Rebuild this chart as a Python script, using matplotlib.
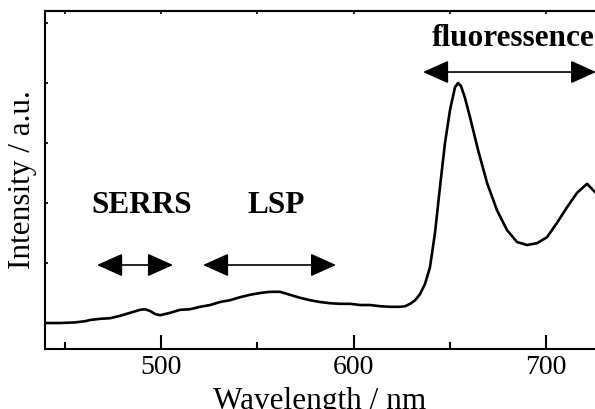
import matplotlib
matplotlib.use("Agg")
import matplotlib.pyplot as plt
from matplotlib.patches import FancyArrowPatch

plt.rcParams['font.family'] = ['Liberation Serif', 'DejaVu Serif']

# Spectrum
wavelength = [439.7, 447.5, 455.3, 460.5, 463.1, 468.3, 473.5, 478.7, 483.9, 489.1,
              491.7, 494.3, 496.9, 499.5, 504.7, 509.9, 515.1, 520.3, 525.5, 530.6,
              535.8, 541.0, 546.2, 551.4, 556.6, 561.8, 567.0, 572.2, 577.4, 582.6,
              587.8, 593.0, 598.2, 603.4, 608.6, 613.8, 619.0, 624.2, 626.8, 629.4,
              632.0, 634.5, 637.1, 639.7, 642.3, 644.9, 647.5, 650.1, 652.7, 654.3,
              655.8, 657.9, 660.5, 664.7, 669.4, 674.5, 679.7, 684.9, 690.1, 695.3,
              700.5, 705.7, 710.9, 716.1, 721.3, 725.5, 730.0]
intensity = [1.00, 1.00, 1.01, 1.03, 1.05, 1.07, 1.08, 1.12, 1.17, 1.22,
             1.23, 1.20, 1.15, 1.13, 1.17, 1.22, 1.23, 1.27, 1.30, 1.35,
             1.38, 1.43, 1.47, 1.50, 1.52, 1.52, 1.47, 1.42, 1.38, 1.35,
             1.33, 1.32, 1.32, 1.30, 1.30, 1.28, 1.27, 1.27, 1.28, 1.32,
             1.38, 1.48, 1.65, 1.93, 2.50, 3.27, 4.00, 4.55, 4.93, 5.00,
             4.95, 4.75, 4.43, 3.88, 3.33, 2.88, 2.55, 2.35, 2.30, 2.33,
             2.43, 2.67, 2.93, 3.17, 3.32, 3.18, 3.05]

labels = ["SERRS", "LSP", "fluoressence"]
label_x = [489.9, 559.7, 640.8]
label_y = [2.833, 2.833, 5.617]
arrow_x0 = [466.75, 521.8, 636.1]
arrow_x1 = [506.2, 590.9, 726.0]
arrow_y = [1.967, 1.967, 5.183]

fig = plt.figure(figsize=(5.95, 4.09), dpi=100)
ax = fig.add_axes([45/595, 60/409, 558.8/595, 338/409])
ax.plot(wavelength, intensity, color='black', lw=1.9)
ax.set_xlim(439.7, 730)
ax.set_ylim(0.567, 6.2)

for s in ax.spines.values():
    s.set_linewidth(1.5)

ax.set_xticks([500, 600, 700])
ax.set_xticks([450, 550, 650], minor=True)
ax.tick_params(axis='x', which='major', direction='in', length=10, width=1.5,
               labelsize=20, pad=4, top=False)
ax.tick_params(axis='x', which='minor', direction='in', length=5, width=1.5, top=False)
ax.set_yticks([2, 3, 4, 5, 6])
ax.tick_params(axis='y', which='major', direction='in', length=2, width=1.2,
               labelleft=False, right=False)

sec = ax.secondary_xaxis('top')
sec.set_xticks([450, 500, 550, 600, 650, 700])
sec.tick_params(direction='in', length=2, width=1.2, labeltop=False)
sec.spines['top'].set_linewidth(1.5)

ax.set_xlabel("Wavelength / nm", fontsize=22.5)
ax.xaxis.set_label_coords((320 - 45) / 558.8, -0.113)
ax.set_ylabel("Intensity / a.u.", fontsize=22.5)
ax.yaxis.set_label_coords(-0.015, (349 - 180) / 338)

for t, x, y in zip(labels, label_x, label_y):
    ha = 'left' if t == "fluoressence" else 'center'
    ax.text(x, y, t, fontsize=22.5, fontweight='bold', ha=ha, va='baseline',
            clip_on=False)

for x0, x1, y in zip(arrow_x0, arrow_x1, arrow_y):
    arr = FancyArrowPatch((x0, y), (x1, y),
                          arrowstyle='<|-|>,head_length=16,head_width=7.2',
                          mutation_scale=1, color='black', lw=1.2,
                          shrinkA=0, shrinkB=0, clip_on=False)
    ax.add_patch(arr)

fig.savefig("out.png", dpi=100)
